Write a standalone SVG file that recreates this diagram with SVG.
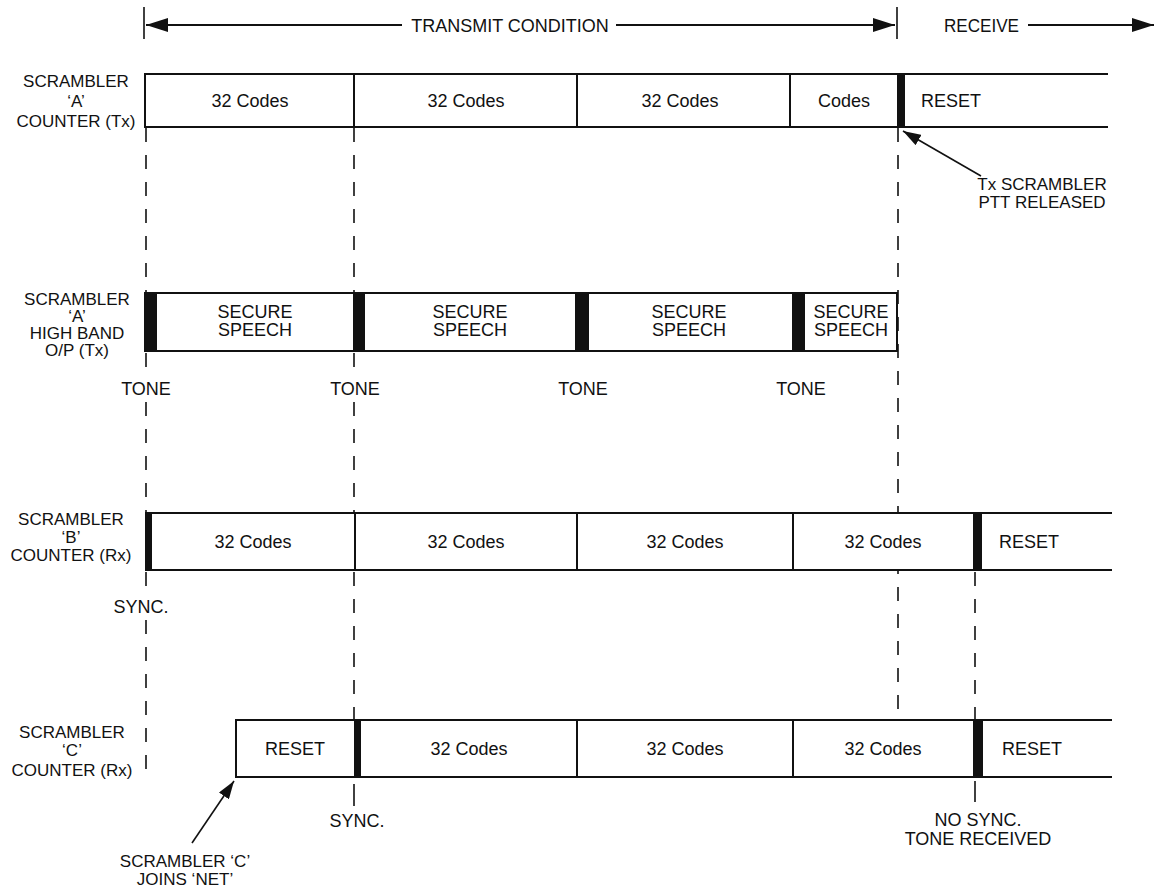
<svg xmlns="http://www.w3.org/2000/svg" width="1162" height="888" viewBox="0 0 1162 888">
<style>
text{font-family:"Liberation Sans",Arial,sans-serif;fill:#111;}
.t{font-size:18px;}
.l{font-size:17px;text-anchor:middle;}
.c{text-anchor:middle;}
.ln{stroke:#111;stroke-width:2;fill:none;}
.box{stroke:#111;stroke-width:2;fill:#fff;}
.bar{fill:#111;}
.dash{stroke:#111;stroke-width:1.6;fill:none;stroke-dasharray:14 13;}
.solid{stroke:#111;stroke-width:1.6;fill:none;}
</style>
<defs>
<marker id="big" markerWidth="22" markerHeight="16" refX="22" refY="8" orient="auto" markerUnits="userSpaceOnUse"><path d="M0,1 L22,8 L0,15 z" fill="#111"/></marker>
<marker id="sm" markerWidth="18" markerHeight="12" refX="18" refY="6" orient="auto" markerUnits="userSpaceOnUse"><path d="M0,0 L18,6 L0,12 z" fill="#111"/></marker>
</defs>

<g id="connectors">
<line class="dash" x1="146" y1="128" x2="146" y2="292"/>
<line class="dash" x1="146" y1="353" x2="146" y2="376"/>
<line class="dash" x1="146" y1="402" x2="146" y2="512"/>
<line class="dash" x1="146" y1="572" x2="146" y2="598"/>
<line class="dash" x1="146" y1="620" x2="146" y2="782"/>
<line class="dash" x1="354" y1="128" x2="354" y2="292"/>
<line class="dash" x1="354" y1="353" x2="354" y2="376"/>
<line class="dash" x1="354" y1="402" x2="354" y2="512"/>
<line class="dash" x1="354" y1="572" x2="354" y2="720"/>
<line class="solid" x1="354" y1="784" x2="354" y2="806"/>
<line class="dash" x1="898" y1="128" x2="898" y2="720"/>
<line class="dash" x1="975" y1="572" x2="975" y2="720"/>
<line class="solid" x1="975" y1="781" x2="975" y2="802"/>
<line class="solid" x1="981" y1="176" x2="903" y2="131" marker-end="url(#sm)"/>
<line class="solid" x1="192" y1="843" x2="234" y2="781" marker-end="url(#sm)"/>
</g>

<g id="timeline">
<line class="solid" x1="144" y1="7" x2="144" y2="39"/>
<line class="solid" x1="897" y1="7" x2="897" y2="39"/>
<line class="ln" x1="402" y1="25" x2="146" y2="25" marker-end="url(#big)"/>
<text class="t c" x="510" y="32">TRANSMIT CONDITION</text>
<line class="ln" x1="616" y1="25" x2="895" y2="25" marker-end="url(#big)"/>
<text class="t" x="944" y="32" textLength="75" lengthAdjust="spacingAndGlyphs">RECEIVE</text>
<line class="ln" x1="1028" y1="25" x2="1154" y2="25" marker-end="url(#big)"/>
</g>

<g id="row-a">
<rect x="145" y="74" width="752" height="53" fill="#fff"/>
<line class="ln" x1="144" y1="74" x2="1108" y2="74"/>
<line class="ln" x1="144" y1="127" x2="1108" y2="127"/>
<line class="ln" x1="145" y1="74" x2="145" y2="127"/>
<line class="ln" x1="354" y1="74" x2="354" y2="127"/>
<line class="ln" x1="577" y1="74" x2="577" y2="127"/>
<line class="ln" x1="790" y1="74" x2="790" y2="127"/>
<rect class="bar" x="897" y="74" width="8" height="54"/>
<text class="t c" x="250" y="107">32 Codes</text>
<text class="t c" x="466" y="107">32 Codes</text>
<text class="t c" x="680" y="107">32 Codes</text>
<text class="t c" x="844" y="107">Codes</text>
<text class="t" x="921" y="107">RESET</text>
</g>
<g id="label-a">
<text class="l" x="76" y="87">SCRAMBLER</text>
<text class="l" x="76" y="107">‘A’</text>
<text class="l" x="76" y="127">COUNTER (Tx)</text>
</g>
<g id="label-ptt">
<text class="l" x="1042" y="190">Tx SCRAMBLER</text>
<text class="l" x="1042" y="208">PTT RELEASED</text>
</g>

<g id="row-hb">
<rect class="box" x="145" y="293" width="752" height="58"/>
<rect class="bar" x="145" y="293" width="12" height="58"/>
<rect class="bar" x="353" y="293" width="12" height="58"/>
<rect class="bar" x="575" y="293" width="14" height="58"/>
<rect class="bar" x="792" y="293" width="13" height="58"/>
<text class="t c" x="255" y="318">SECURE</text>
<text class="t c" x="255" y="336">SPEECH</text>
<text class="t c" x="470" y="318">SECURE</text>
<text class="t c" x="470" y="336">SPEECH</text>
<text class="t c" x="689" y="318">SECURE</text>
<text class="t c" x="689" y="336">SPEECH</text>
<text class="t c" x="851" y="318">SECURE</text>
<text class="t c" x="851" y="336">SPEECH</text>
</g>
<g id="label-hb">
<text class="l" x="77" y="305">SCRAMBLER</text>
<text class="l" x="77" y="322">‘A’</text>
<text class="l" x="77" y="339">HIGH BAND</text>
<text class="l" x="77" y="356">O/P (Tx)</text>
</g>
<g id="tones">
<text class="t c" x="146" y="395">TONE</text>
<text class="t c" x="355" y="395">TONE</text>
<text class="t c" x="583" y="395">TONE</text>
<text class="t c" x="801" y="395">TONE</text>
</g>

<g id="row-b">
<rect x="145" y="513" width="967" height="57" fill="#fff"/>
<line class="ln" x1="145" y1="513" x2="1112" y2="513"/>
<line class="ln" x1="145" y1="570" x2="1112" y2="570"/>
<rect class="bar" x="145" y="513" width="7" height="58"/>
<line class="ln" x1="355" y1="513" x2="355" y2="570"/>
<line class="ln" x1="577" y1="513" x2="577" y2="570"/>
<line class="ln" x1="793" y1="513" x2="793" y2="570"/>
<rect class="bar" x="973" y="513" width="9" height="58"/>
<text class="t c" x="253" y="548">32 Codes</text>
<text class="t c" x="466" y="548">32 Codes</text>
<text class="t c" x="685" y="548">32 Codes</text>
<text class="t c" x="883" y="548">32 Codes</text>
<text class="t" x="999" y="548">RESET</text>
</g>
<g id="label-b">
<text class="l" x="71" y="525">SCRAMBLER</text>
<text class="l" x="71" y="543">‘B’</text>
<text class="l" x="71" y="561">COUNTER (Rx)</text>
<text class="t c" x="141" y="613">SYNC.</text>
</g>

<g id="row-c">
<rect x="236" y="720" width="876" height="57" fill="#fff"/>
<line class="ln" x1="235" y1="720" x2="1112" y2="720"/>
<line class="ln" x1="235" y1="777" x2="1112" y2="777"/>
<line class="ln" x1="236" y1="720" x2="236" y2="777"/>
<rect class="bar" x="354" y="720" width="7" height="58"/>
<line class="ln" x1="577" y1="720" x2="577" y2="777"/>
<line class="ln" x1="793" y1="720" x2="793" y2="777"/>
<rect class="bar" x="973" y="720" width="10" height="58"/>
<text class="t c" x="295" y="755">RESET</text>
<text class="t c" x="469" y="755">32 Codes</text>
<text class="t c" x="685" y="755">32 Codes</text>
<text class="t c" x="883" y="755">32 Codes</text>
<text class="t" x="1002" y="755">RESET</text>
</g>
<g id="label-c">
<text class="l" x="72" y="738">SCRAMBLER</text>
<text class="l" x="72" y="756">‘C’</text>
<text class="l" x="72" y="776">COUNTER (Rx)</text>
<text class="t c" x="357" y="827">SYNC.</text>
<text class="t c" x="978" y="826">NO SYNC.</text>
<text class="t c" x="978" y="845">TONE RECEIVED</text>
<text class="l" x="185" y="867">SCRAMBLER ‘C’</text>
<text class="l" x="185" y="885">JOINS ‘NET’</text>
</g>
</svg>
